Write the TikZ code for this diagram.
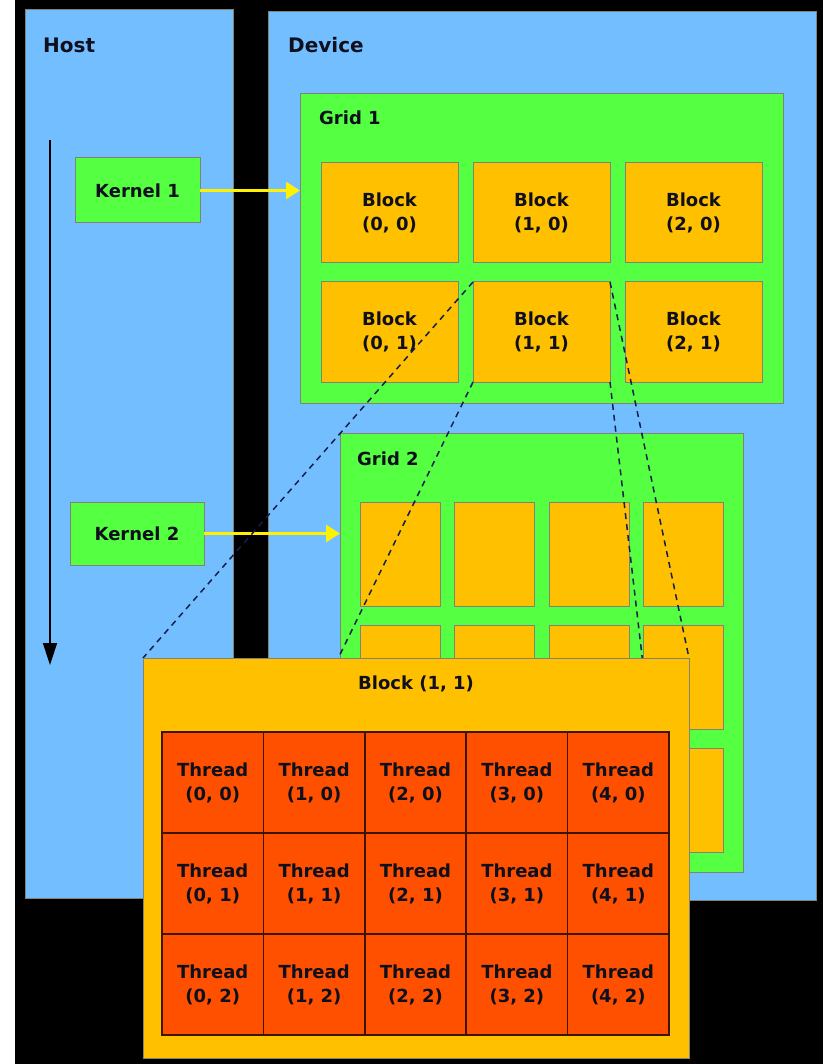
\documentclass[tikz,border=0pt]{standalone}
\usepackage{fontspec}
\setmainfont{DejaVu Sans}
\usetikzlibrary{arrows.meta}
\pgfdeclarelayer{front}
\pgfsetlayers{main,front}
\definecolor{hostblue}{RGB}{115,190,255}
\definecolor{gridgreen}{RGB}{85,255,65}
\definecolor{blockorange}{RGB}{255,192,0}
\definecolor{threadred}{RGB}{255,80,0}
\definecolor{threadline}{RGB}{60,20,0}
\definecolor{edgegray}{RGB}{130,130,120}
\definecolor{navy}{RGB}{20,30,80}
\definecolor{textdark}{RGB}{15,15,30}
\newcommand{\boxfont}{\bfseries\fontsize{18}{24}\selectfont}
\newcommand{\titlefont}{\bfseries\fontsize{20}{24}\selectfont}
\tikzstyle{panel} = [rectangle, draw=edgegray, line width=1pt, fill=hostblue, inner sep=0pt, outer sep=0pt]
\tikzstyle{gridbox} = [rectangle, draw=edgegray, line width=1pt, fill=gridgreen, inner sep=0pt, outer sep=0pt]
\tikzstyle{blockbox} = [rectangle, draw=edgegray, line width=1pt, fill=blockorange, minimum width=137pt, minimum height=100pt, outer sep=0pt, align=center, font=\boxfont, text=textdark]
\tikzstyle{smallblock} = [rectangle, draw=edgegray, line width=1pt, fill=blockorange, minimum width=80pt, minimum height=104pt, outer sep=0pt]
\tikzstyle{threadbox} = [rectangle, draw=threadline, line width=1.5pt, fill=threadred, minimum width=101.4pt, minimum height=101pt, outer sep=0pt, align=center, font=\boxfont, text=textdark]
\tikzstyle{kernel} = [rectangle, draw=edgegray, line width=1pt, fill=gridgreen, outer sep=0pt, font=\boxfont, text=textdark]
\tikzstyle{title} = [anchor=base west, inner sep=0pt, font=\titlefont, text=textdark]
\tikzstyle{gridlabel} = [anchor=base west, inner sep=0pt, font=\boxfont, text=textdark]
\tikzstyle{launch} = [draw=yellow, line width=2.5pt, -{Triangle[length=14pt,width=17pt]}]
\tikzstyle{timeline} = [draw=black, line width=1.5pt, -{Triangle[length=22pt,width=14pt]}]
\tikzstyle{zoomline} = [draw=navy, line width=1.5pt, dash pattern=on 6pt off 5pt]

\begin{document}
\begin{tikzpicture}[x=1pt,y=-1pt]
            \useasboundingbox (0,0) rectangle (823,1064);
            \fill[black] (15,0) rectangle (823,1064);

            % host and device
            \node [panel, minimum width=208pt, minimum height=888pt] at (129,454) (host) {};
            \node [panel, minimum width=548pt, minimum height=888pt] at (542,456) (device) {};
            \node [title] at (43,53) (hostlabel) {Host};
            \node [title] at (288,53) (devicelabel) {Device};

            % grid 1
            \node [gridbox, minimum width=483pt, minimum height=309pt] at (541.5,248.5) (grid1) {};
            \node [gridlabel] at (319,125) (grid1label) {Grid 1};
            \node [blockbox] at (389.5,213) (b00) {Block\\(0, 0)};
            \node [blockbox] at (541.5,213) (b10) {Block\\(1, 0)};
            \node [blockbox] at (693.5,213) (b20) {Block\\(2, 0)};
            \node [blockbox] at (389.5,332) (b01) {Block\\(0, 1)};
            \node [blockbox] at (541.5,332) (b11) {Block\\(1, 1)};
            \node [blockbox] at (693.5,332) (b21) {Block\\(2, 1)};

            % grid 2
            \node [gridbox, minimum width=403pt, minimum height=439pt] at (541.5,652.5) (grid2) {};
            \node [gridlabel] at (357,465) (grid2label) {Grid 2};
            \node [smallblock] at (400,554) (s00) {};
            \node [smallblock] at (494.5,554) (s10) {};
            \node [smallblock] at (589,554) (s20) {};
            \node [smallblock] at (683.5,554) (s30) {};
            \node [smallblock] at (400,677.5) (s01) {};
            \node [smallblock] at (494.5,677.5) (s11) {};
            \node [smallblock] at (589,677.5) (s21) {};
            \node [smallblock] at (683.5,677.5) (s31) {};
            \node [smallblock] at (400,800) (s02) {};
            \node [smallblock] at (494.5,800) (s12) {};
            \node [smallblock] at (589,800) (s22) {};
            \node [smallblock] at (683.5,800) (s32) {};

            % kernels
            \node [kernel, minimum width=125pt, minimum height=65pt] at (137.5,190.5) (kernel1) {Kernel 1};
            \node [kernel, minimum width=134pt, minimum height=63pt] at (137,533.5) (kernel2) {Kernel 2};
            \draw [launch] (kernel1) -- (kernel1 -| grid1.west);
            \draw [launch] (kernel2) -- (kernel2 -| grid2.west);
            \coordinate (timetop) at (50,140);
            \coordinate (timeend) at (50,665);
            \draw [timeline] (timetop) -- (timeend);

            % zoom of block (1, 1), kept in front of the dashed lines
            \begin{pgfonlayer}{front}
            \node [blockbox, minimum width=546pt, minimum height=400pt] at (416,858) (bigblock) {};
            \node [gridlabel, anchor=base] at (416,689) (bigblocklabel) {Block (1, 1)};

            \node [threadbox] at (212.7,782.5) (t00) {Thread\\(0, 0)};
            \node [threadbox] at (314.1,782.5) (t10) {Thread\\(1, 0)};
            \node [threadbox] at (415.5,782.5) (t20) {Thread\\(2, 0)};
            \node [threadbox] at (516.9,782.5) (t30) {Thread\\(3, 0)};
            \node [threadbox] at (618.3,782.5) (t40) {Thread\\(4, 0)};
            \node [threadbox] at (212.7,883.5) (t01) {Thread\\(0, 1)};
            \node [threadbox] at (314.1,883.5) (t11) {Thread\\(1, 1)};
            \node [threadbox] at (415.5,883.5) (t21) {Thread\\(2, 1)};
            \node [threadbox] at (516.9,883.5) (t31) {Thread\\(3, 1)};
            \node [threadbox] at (618.3,883.5) (t41) {Thread\\(4, 1)};
            \node [threadbox] at (212.7,984.5) (t02) {Thread\\(0, 2)};
            \node [threadbox] at (314.1,984.5) (t12) {Thread\\(1, 2)};
            \node [threadbox] at (415.5,984.5) (t22) {Thread\\(2, 2)};
            \node [threadbox] at (516.9,984.5) (t32) {Thread\\(3, 2)};
            \node [threadbox] at (618.3,984.5) (t42) {Thread\\(4, 2)};
            \end{pgfonlayer}

            \draw [zoomline] (b11.north west) -- (bigblock.north west);
            \draw [zoomline] (b11.south west) -- (bigblock.south west);
            \draw [zoomline] (b11.north east) -- (bigblock.north east);
            \draw [zoomline] (b11.south east) -- (bigblock.south east);
\end{tikzpicture}
\end{document}
